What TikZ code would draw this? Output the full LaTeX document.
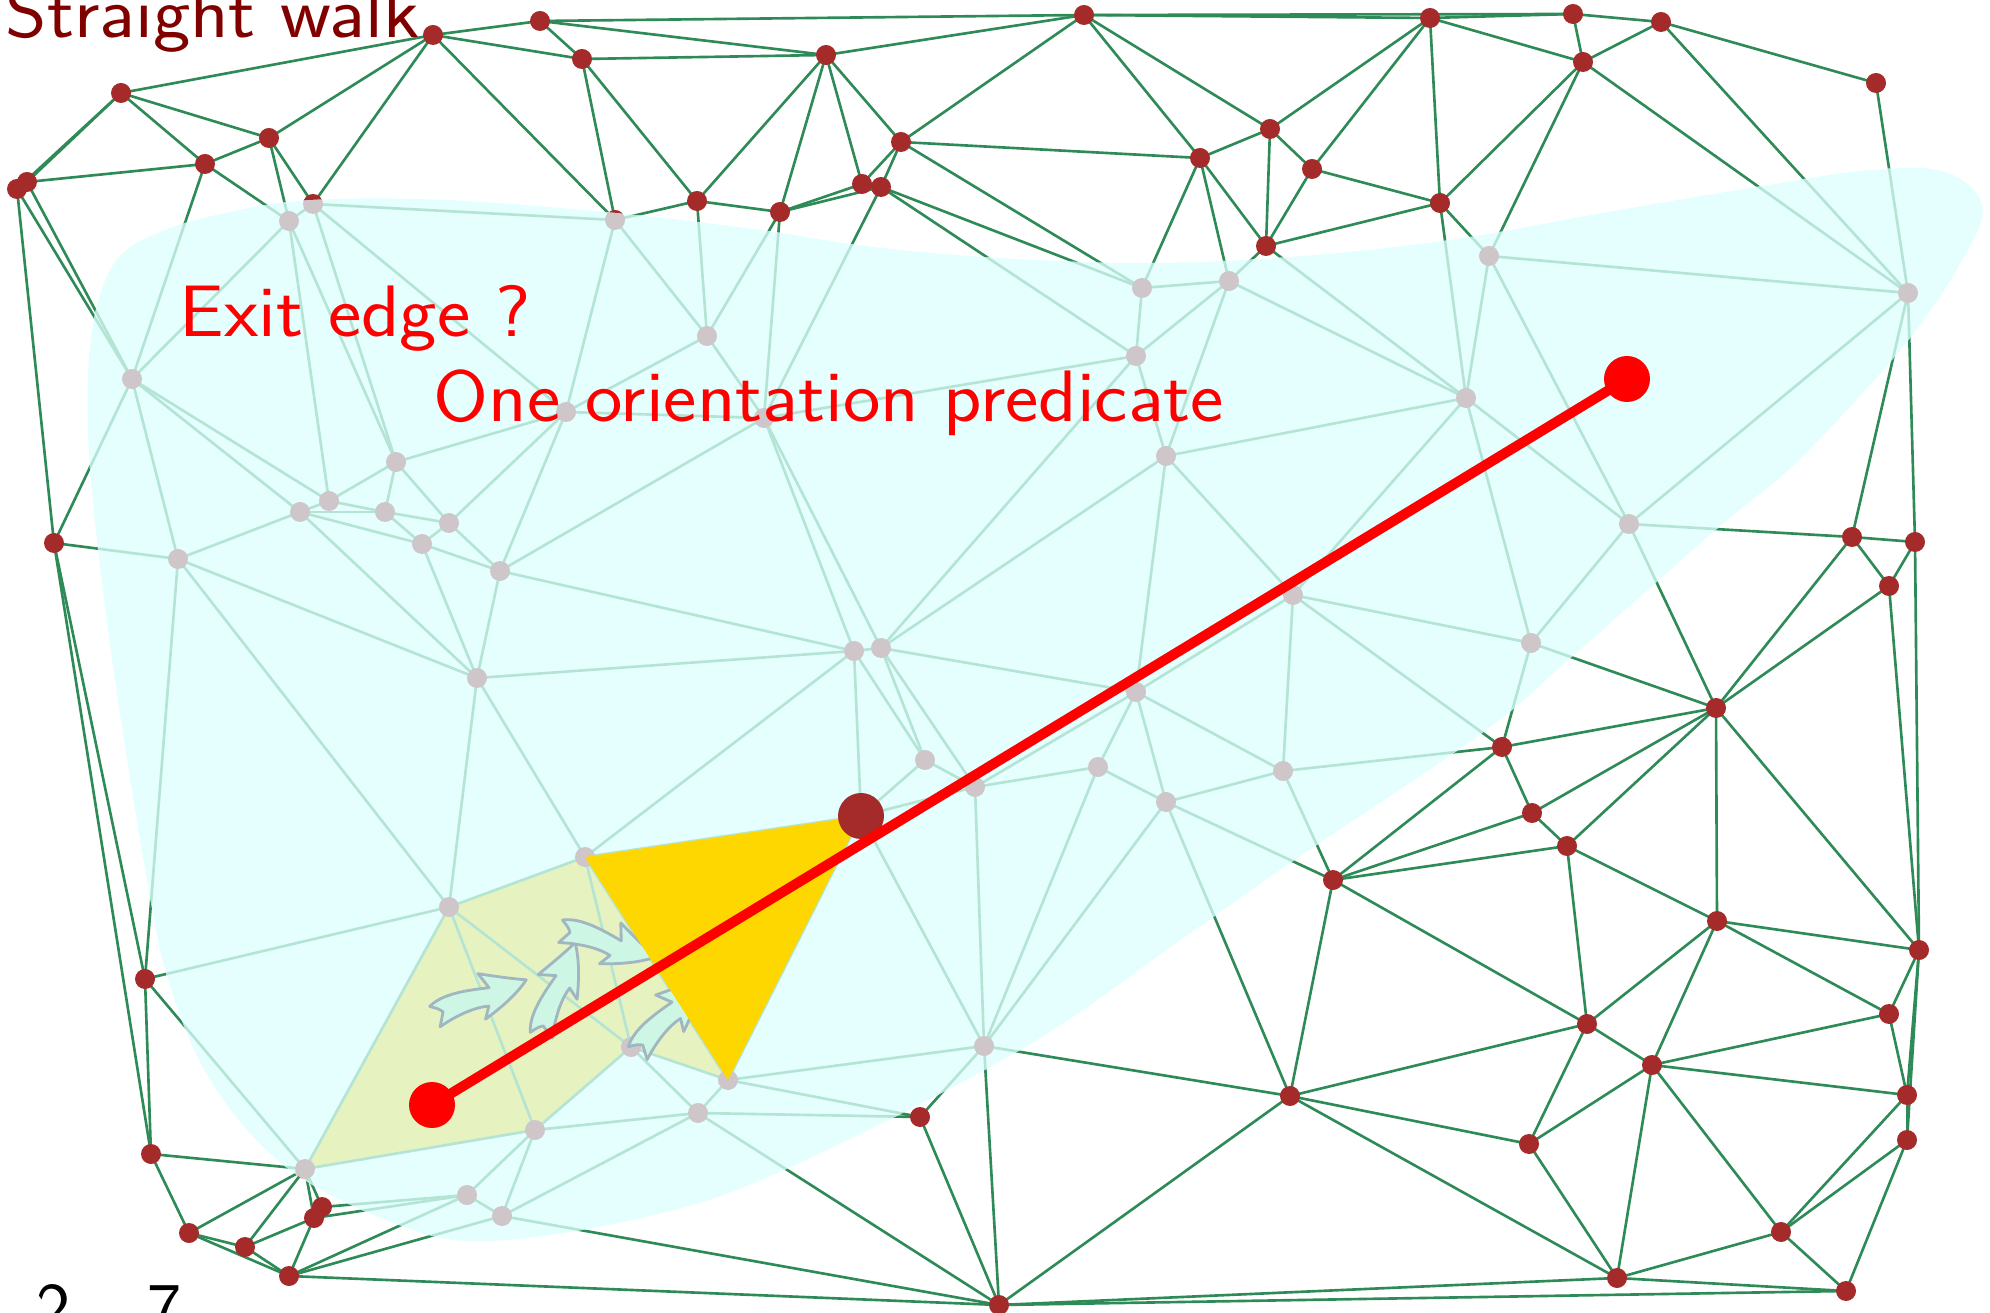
\documentclass[tikz,border=0pt]{standalone}
\usepackage{tikz}
\usepackage{graphicx}

\definecolor{edgegreen}{RGB}{46,139,87}
\definecolor{edgepale}{RGB}{180,228,212}
\definecolor{vtxred}{RGB}{165,42,42}
\definecolor{vtxgray}{RGB}{206,198,200}
\definecolor{blobcyan}{RGB}{229,255,255}
\definecolor{visitfill}{RGB}{230,242,192}
\definecolor{walkgold}{RGB}{255,215,0}
\definecolor{arrowfill}{RGB}{205,247,228}
\definecolor{arrowline}{RGB}{160,182,192}
\definecolor{titlered}{RGB}{128,0,0}

% triangulation edges (vertex numbers)
\newcommand\tredges{1/2,1/5,1/6,1/7,1/8,2/3,2/4,2/5,2/9,2/17,3/4,3/10,3/11,4/10,4/12,4/17,
  5/6,5/9,5/58,6/7,6/58,6/59,7/8,7/59,8/28,8/59,9/17,9/58,9/61,9/63,
  10/11,10/12,10/13,10/14,10/16,11/16,11/18,11/19,11/22,11/23,12/13,12/17,12/60,
  13/14,13/15,13/60,13/62,14/15,14/16,15/16,15/62,15/74,15/76,16/18,16/74,17/60,17/61,
  18/19,18/21,18/74,18/75,19/20,19/21,19/22,20/21,20/22,20/27,21/27,21/75,21/79,
  22/23,22/25,22/27,23/24,23/25,24/25,24/26,24/80,25/27,25/78,25/80,26/80,27/78,27/79,
  28/51,28/52,28/59,28/70,29/30,29/31,29/32,29/80,29/81,30/31,30/38,30/80,31/32,31/38,
  32/33,32/34,32/35,32/37,32/38,32/81,32/83,33/34,33/36,33/82,33/83,33/89,34/35,34/36,
  35/36,35/37,35/39,36/39,36/45,36/88,36/89,37/38,37/39,37/40,37/41,38/40,38/42,38/43,
  39/41,39/44,39/45,40/41,40/42,41/42,41/44,41/46,41/47,42/43,42/46,43/46,43/48,
  44/45,44/47,45/47,45/49,45/88,45/97,46/47,46/48,47/48,47/49,48/49,
  49/50,49/55,49/95,49/97,49/100,50/95,50/96,50/97,51/52,51/70,51/92,51/98,
  52/53,52/98,53/54,53/55,53/98,54/55,54/57,54/98,55/57,55/99,55/100,56/57,56/98,56/99,
  57/98,57/99,58/59,58/63,58/64,59/64,59/65,59/70,60/61,60/62,61/62,61/63,61/67,61/69,
  62/69,62/72,62/73,62/76,63/64,63/66,63/67,64/65,64/66,65/66,65/68,65/70,65/71,
  66/67,66/68,67/68,67/69,68/69,68/71,69/71,69/72,70/71,70/92,71/72,71/91,71/92,
  72/73,72/85,72/90,72/91,73/76,73/77,73/84,73/85,73/86,74/75,74/76,75/76,75/77,75/79,
  76/77,77/79,77/82,77/84,78/79,78/80,78/81,79/81,79/82,79/83,80/81,81/83,
  82/83,82/84,82/89,84/86,84/87,84/88,84/89,85/86,85/90,86/87,86/90,86/97,87/88,87/97,
  88/89,88/97,90/91,90/96,90/97,91/92,91/93,91/96,92/93,92/94,92/98,93/94,93/95,93/96,
  94/95,94/98,94/99,94/100,95/96,95/100,96/97,99/100}

% outline of the searched zone
\newcommand\blobpath{plot[smooth cycle, tension=0.6] coordinates {
  (88,430) (92,330) (115,262) (160,232) (230,212) (313,200) (446,200) (615,213)
  (760,230) (873,247) (1000,258) (1141,263) (1290,257) (1450,240) (1602,213)
  (1750,188) (1870,170) (1945,172) (1982,205) (1965,255) (1906,343) (1799,460)
  (1719,527) (1576,653) (1482,733) (1290,863) (1186,936) (1020,1050) (784,1170)
  (650,1216) (491,1241) (402,1226) (290,1170) (214,1086) (170,986) (147,880)
  (116,687) (97,540)}}

\newcommand\wide[1]{\scalebox{1.09}[1]{#1}}

\begin{document}
\begin{tikzpicture}[x=0.1mm, y=-0.1mm, font=\sffamily\fontsize{20.74}{25}\selectfont,
  edge/.style={draw=edgegreen, line width=0.75pt},
  ghost/.style={draw=edgepale, line width=0.75pt},
  vtx/.style={fill=vtxred},
  gvtx/.style={fill=vtxgray},
  blob/.style={fill=blobcyan},
  visited/.style={fill=visitfill},
  current/.style={fill=walkgold},
  walk/.style={draw=red, line width=1mm},
  label/.style={anchor=base west, inner sep=0pt, text=red},
  walkarrow/.pic={
    \filldraw[fill=arrowfill, draw=arrowline, line width=0.8pt, line join=round]
      (-50,-2) .. controls (-42,2) .. (-38,6) -- (-44,20)
      .. controls (-25,12) and (-5,8) .. (8,10) -- (2,22)
      .. controls (20,14) and (38,4) .. (50,-8)
      .. controls (36,-12) and (20,-18) .. (4,-24) -- (12,-8)
      .. controls (-10,-10) and (-35,-12) .. (-50,-2) -- cycle;
  }]
  \useasboundingbox (0,0) rectangle (1990,1313);

  % vertices
  \foreach \n/\x/\y in {1/121/93, 2/433/35, 3/540/21, 4/582/59, 5/269/138, 6/205/164,
      7/27/182, 8/17/189, 9/313/204, 10/826/55, 11/1084/15, 12/697/201, 13/780/212,
      14/862/184, 15/881/187, 16/901/142, 17/615/220, 18/1200/158, 19/1270/129,
      20/1312/169, 21/1266/246, 22/1430/18, 23/1573/14, 24/1661/22, 25/1583/62,
      26/1876/83, 27/1440/203, 28/54/543, 29/1852/537, 30/1915/542, 31/1889/586,
      32/1716/708, 33/1502/747, 34/1532/813, 35/1567/846, 36/1333/880, 37/1717/921,
      38/1919/950, 39/1587/1024, 40/1889/1014, 41/1652/1065, 42/1907/1095,
      43/1907/1140, 44/1529/1144, 45/1290/1096, 46/1781/1232, 47/1617/1278,
      48/1846/1291, 49/999/1305, 50/920/1117, 51/145/979, 52/151/1154, 53/189/1233,
      54/245/1247, 55/289/1276, 56/322/1207, 57/314/1218, 58/289/221, 59/132/379,
      60/707/336, 61/566/412, 62/764/418, 63/396/462, 64/329/501, 65/300/512,
      66/385/512, 67/449/523, 68/422/544, 69/500/571, 70/178/559, 71/477/678,
      72/854/651, 73/881/648, 74/1142/288, 75/1229/281, 76/1136/356, 77/1166/456,
      78/1489/256, 79/1466/398, 80/1908/293, 81/1629/524, 82/1293/595, 83/1531/643,
      84/1136/692, 85/925/760, 86/975/787, 87/1098/767, 88/1166/802, 89/1283/771,
      90/861/816, 91/585/857, 92/449/907, 93/631/1047, 94/535/1130, 95/698/1113,
      96/728/1080, 97/984/1046, 98/305/1169, 99/467/1195, 100/502/1216}
    \coordinate (v\n) at (\x,\y);
  \coordinate (start) at (432,1105);
  \coordinate (goal) at (1627,379);

  % full triangulation
  \foreach \a/\b in \tredges \draw[edge] (v\a) -- (v\b);
  \foreach \n in {1,...,100} \fill[vtx] (v\n) circle[radius=1mm];

  % searched zone
  \fill[blob] \blobpath;
  \fill[visited] (v98) -- (v92) -- (v91) -- (v96) -- (v93) -- (v94) -- cycle;
  \begin{scope}
    \clip \blobpath;
    \foreach \a/\b in \tredges \draw[ghost] (v\a) -- (v\b);
    \foreach \n in {1,...,100} \fill[gvtx] (v\n) circle[radius=1mm];
  \end{scope}

  \pic[rotate=12] at (479,998) {walkarrow};
  \pic[rotate=60] at (557,990) {walkarrow};
  \pic[rotate=-25] at (607,943) {walkarrow};
  \pic[rotate=40] at (668,1016) {walkarrow};
  \fill[current] (v91) -- (v90) -- (v96) -- cycle;

  % the walk
  \fill[vtxred] (v90) circle[radius=2.3mm];
  \draw[walk] (start) -- (goal);
  \fill[red] (start) circle[radius=2.3mm];
  \fill[red] (goal) circle[radius=2.3mm];

  \node[label, text=titlered] (title) at (5,38) {\wide{Straight walk}};
  \node[label] (exitq) at (179,337) {\wide{Exit edge ?}};
  \node[label] (orient) at (433,422) {\wide{One orientation predicate}};
  \node[label, text=black] (pga) at (36,1333) {2};
  \node[label, text=black] (pgb) at (147,1333) {7};
\end{tikzpicture}
\end{document}
